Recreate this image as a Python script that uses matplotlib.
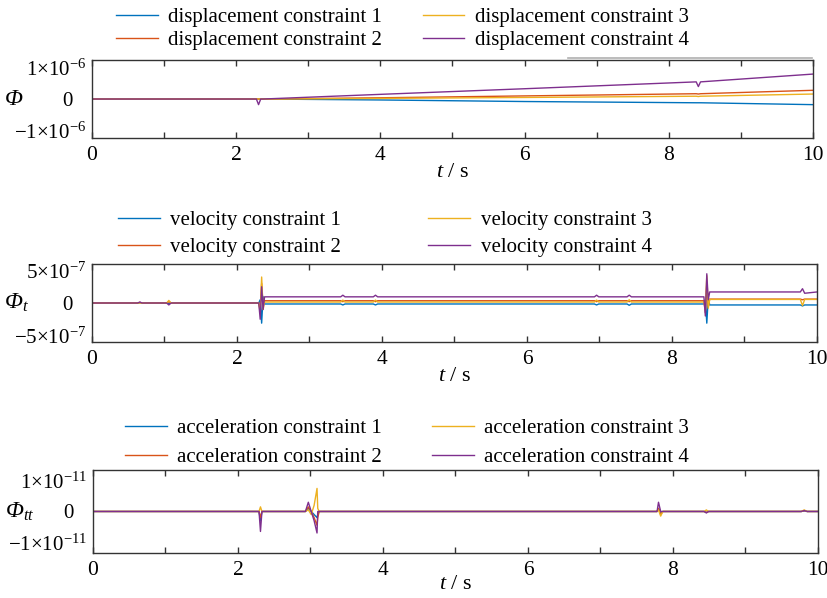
import numpy as np
import matplotlib
matplotlib.use("Agg")
import matplotlib.pyplot as plt
from matplotlib.lines import Line2D

plt.rcParams['font.family'] = ['Liberation Serif', 'DejaVu Serif']
plt.rcParams['mathtext.fontset'] = 'custom'
plt.rcParams['mathtext.rm'] = 'Liberation Serif'
plt.rcParams['mathtext.it'] = 'Liberation Serif:italic'
plt.rcParams['mathtext.sf'] = 'Liberation Serif:italic'
plt.rcParams['mathtext.bf'] = 'Liberation Serif:bold'

colors = ['#0072BD', '#D95319', '#EDB120', '#7E2F8E']

# displacement constraint error (x1e-6)
t_disp = [0, 2.28, 2.31, 2.34, 2.37, 4.0, 6.0, 8.38, 8.41, 8.44, 10.0]
disp1 = [0, 0, 0, 0, 0, -0.03, -0.08, -0.12, -0.12, -0.12, -0.18]
disp2 = [0, 0, 0, 0, 0, 0.04, 0.10, 0.17, 0.16, 0.17, 0.28]
disp3 = [0, 0, 0, 0, 0, 0.02, 0.05, 0.09, 0.08, 0.09, 0.16]
disp4 = [0, 0, -0.18, 0, 0, 0.15, 0.33, 0.55, 0.40, 0.55, 0.80]

# velocity constraint error (x1e-7)
t_vel = [0, 0.63, 0.66, 0.69, 1.03, 1.06, 1.09, 2.30, 2.32, 2.34, 2.36, 2.38, 2.41,
         3.43, 3.46, 3.49, 3.88, 3.91, 3.94, 6.93, 6.96, 6.99, 7.38, 7.41, 7.44,
         8.44, 8.46, 8.48, 8.50, 8.52, 8.55, 9.77, 9.80, 9.83, 10.0]
vel1 = [0, 0, 0, 0, 0, -0.1, 0, 0, 0.5, -3.1, 1.0, -0.15, -0.15,
        -0.15, -0.3, -0.15, -0.15, -0.3, -0.15, -0.15, -0.3, -0.15, -0.15, -0.35, -0.15,
        -0.15, 0.5, -3.1, 0.8, -0.3, -0.3, -0.3, -0.45, -0.3, -0.3]
vel2 = [0, 0, 0.1, 0, 0, 0.2, 0, 0, -1.0, 3.0, -0.5, 0.35, 0.35,
        0.35, 0.2, 0.35, 0.35, 0.2, 0.35, 0.35, 0.2, 0.35, 0.35, 0.2, 0.35,
        0.35, -1.5, 3.0, -0.5, 0.6, 0.6, 0.6, 0.5, 0.6, 0.6]
vel3 = [0, 0, 0, 0, 0, 0.4, 0, 0, -1.5, 4.0, -1.0, 0.15, 0.15,
        0.15, 0.45, 0.15, 0.15, 0.45, 0.15, 0.15, 0.45, 0.15, 0.15, 0.5, 0.15,
        0.15, -1.0, 4.2, -0.8, 0.55, 0.55, 0.55, -0.4, 0.55, 0.55]
vel4 = [0, 0, 0.15, 0, 0, -0.3, 0, 0, -2.5, 2.5, -1.0, 0.95, 0.95,
        0.95, 1.2, 0.95, 0.95, 1.2, 0.95, 0.95, 1.2, 0.95, 0.95, 1.2, 0.95,
        0.95, -2.0, 4.5, 0.5, 1.7, 1.7, 1.7, 2.2, 1.5, 1.7]

# acceleration constraint error (x1e-11)
t_acc = [0, 2.29, 2.31, 2.33, 2.36, 2.93, 2.97, 3.01, 3.05, 3.09, 3.10, 3.12,
         7.78, 7.80, 7.83, 7.86, 8.43, 8.46, 8.49, 9.77, 9.81, 9.85, 10.0]
acc1 = [0, 0, -0.3, 0, 0, 0, 0.1, 0, -0.1, -0.2, -0.1, 0,
        0, 0.1, -0.05, 0, 0, -0.03, 0, 0, 0.02, 0, 0]
acc2 = [0, 0, -0.2, 0, 0, 0, 0.15, 0, -0.2, -0.45, -0.2, 0,
        0, 0.1, -0.1, 0, 0, -0.03, 0, 0, 0.03, 0, 0]
acc3 = [0, 0, 0.15, 0, 0, 0, 0.05, -0.1, 0.2, 0.75, 0.1, 0,
        0, 0.05, -0.15, 0, 0, 0.05, 0, 0, 0.05, 0, 0]
acc4 = [0, 0, -0.65, 0, 0, 0, 0.3, 0, -0.3, -0.7, 0, 0,
        0, 0.3, 0, 0, 0, -0.05, 0, 0, 0.03, 0, 0]

panels = [
    (t_disp, [disp1, disp2, disp3, disp4], 1e-6, 1.25, [-1, 0, 1], -6,
     r'$\mathsf{\Phi}$', 'displacement constraint', (0.140, 0.987), 1.95, 0.15),
    (t_vel, [vel1, vel2, vel3, vel4], 1e-7, 6.0, [-5, 0, 5], -7,
     r'$\mathsf{\Phi}_{t}$', 'velocity constraint', (0.1425, 0.648), 4.2, 0.35),
    (t_acc, [acc1, acc2, acc3, acc4], 1e-11, 1.35, [-1, 0, 1], -11,
     r'$\mathsf{\Phi}_{tt}$', 'acceleration constraint', (0.151, 0.300), 2.4, 0.45),
]
ax_rects = [[92 / 828, 0.7692, 721 / 828, 0.1304],
            [92 / 828, 0.4281, 725 / 828, 0.1304],
            [93 / 828, 0.0753, 725 / 828, 0.1388]]
xlabel_pads = [-2, -2, -4]


def tick_text(v, ex):
    if v == 0:
        return '0'
    sign = '-' if v < 0 else ''
    return r'$%s%d{\times}10^{%d}$' % (sign, abs(v), ex)


fig = plt.figure(figsize=(8.28, 5.98), dpi=100)
for rect, lp, (t, series, scale, lim, yt, ex, ylab, name, anchor, cs, ls) in zip(
        ax_rects, xlabel_pads, panels):
    ax = fig.add_axes(rect)
    for i, s in enumerate(series):
        ax.plot(t, np.array(s) * scale, color=colors[i], lw=1.0,
                label=f'{name} {i + 1}')
    ax.set_xlim(0, 10)
    ax.set_ylim(-lim * scale, lim * scale)
    ax.set_xticks(np.arange(0, 11, 2))
    ax.set_xticks(np.arange(1, 10, 2), minor=True)
    ax.set_yticks([v * scale for v in yt])
    ax.set_yticklabels([tick_text(v, ex) for v in yt])
    ax.tick_params(axis='x', which='both', direction='in', top=True, length=4,
                   width=1, color='#333333', labelsize=15.5, pad=6)
    ax.tick_params(axis='y', direction='in', length=0, labelsize=15, pad=4)
    # MATLAB-style: the zero label lines up with the base of the others
    ax.yaxis.get_major_ticks()[1].set_pad(14)
    for sp in ax.spines.values():
        sp.set_color('#333333')
        sp.set_linewidth(1.0)
    ax.set_xlabel(r'$t$ / s', fontsize=16, labelpad=lp)
    ax.set_ylabel(ylab, fontsize=17, rotation=0, va='center', ha='left')
    ax.yaxis.set_label_coords(-0.122, 0.5)
    fig.legend(*ax.get_legend_handles_labels(), loc='upper left',
               bbox_to_anchor=anchor, ncol=2, frameon=False,
               fontsize=15, handlelength=2.0, handletextpad=0.5,
               columnspacing=cs, labelspacing=ls, borderpad=0,
               borderaxespad=0)

# thin grey rule above the first panel, as in the source figure
fig.add_artist(Line2D([568 / 828, 812 / 828], [1 - 58 / 598, 1 - 58 / 598],
                      transform=fig.transFigure, color='#b0b0b0', lw=1.2))

fig.savefig('out.png', dpi=100)
